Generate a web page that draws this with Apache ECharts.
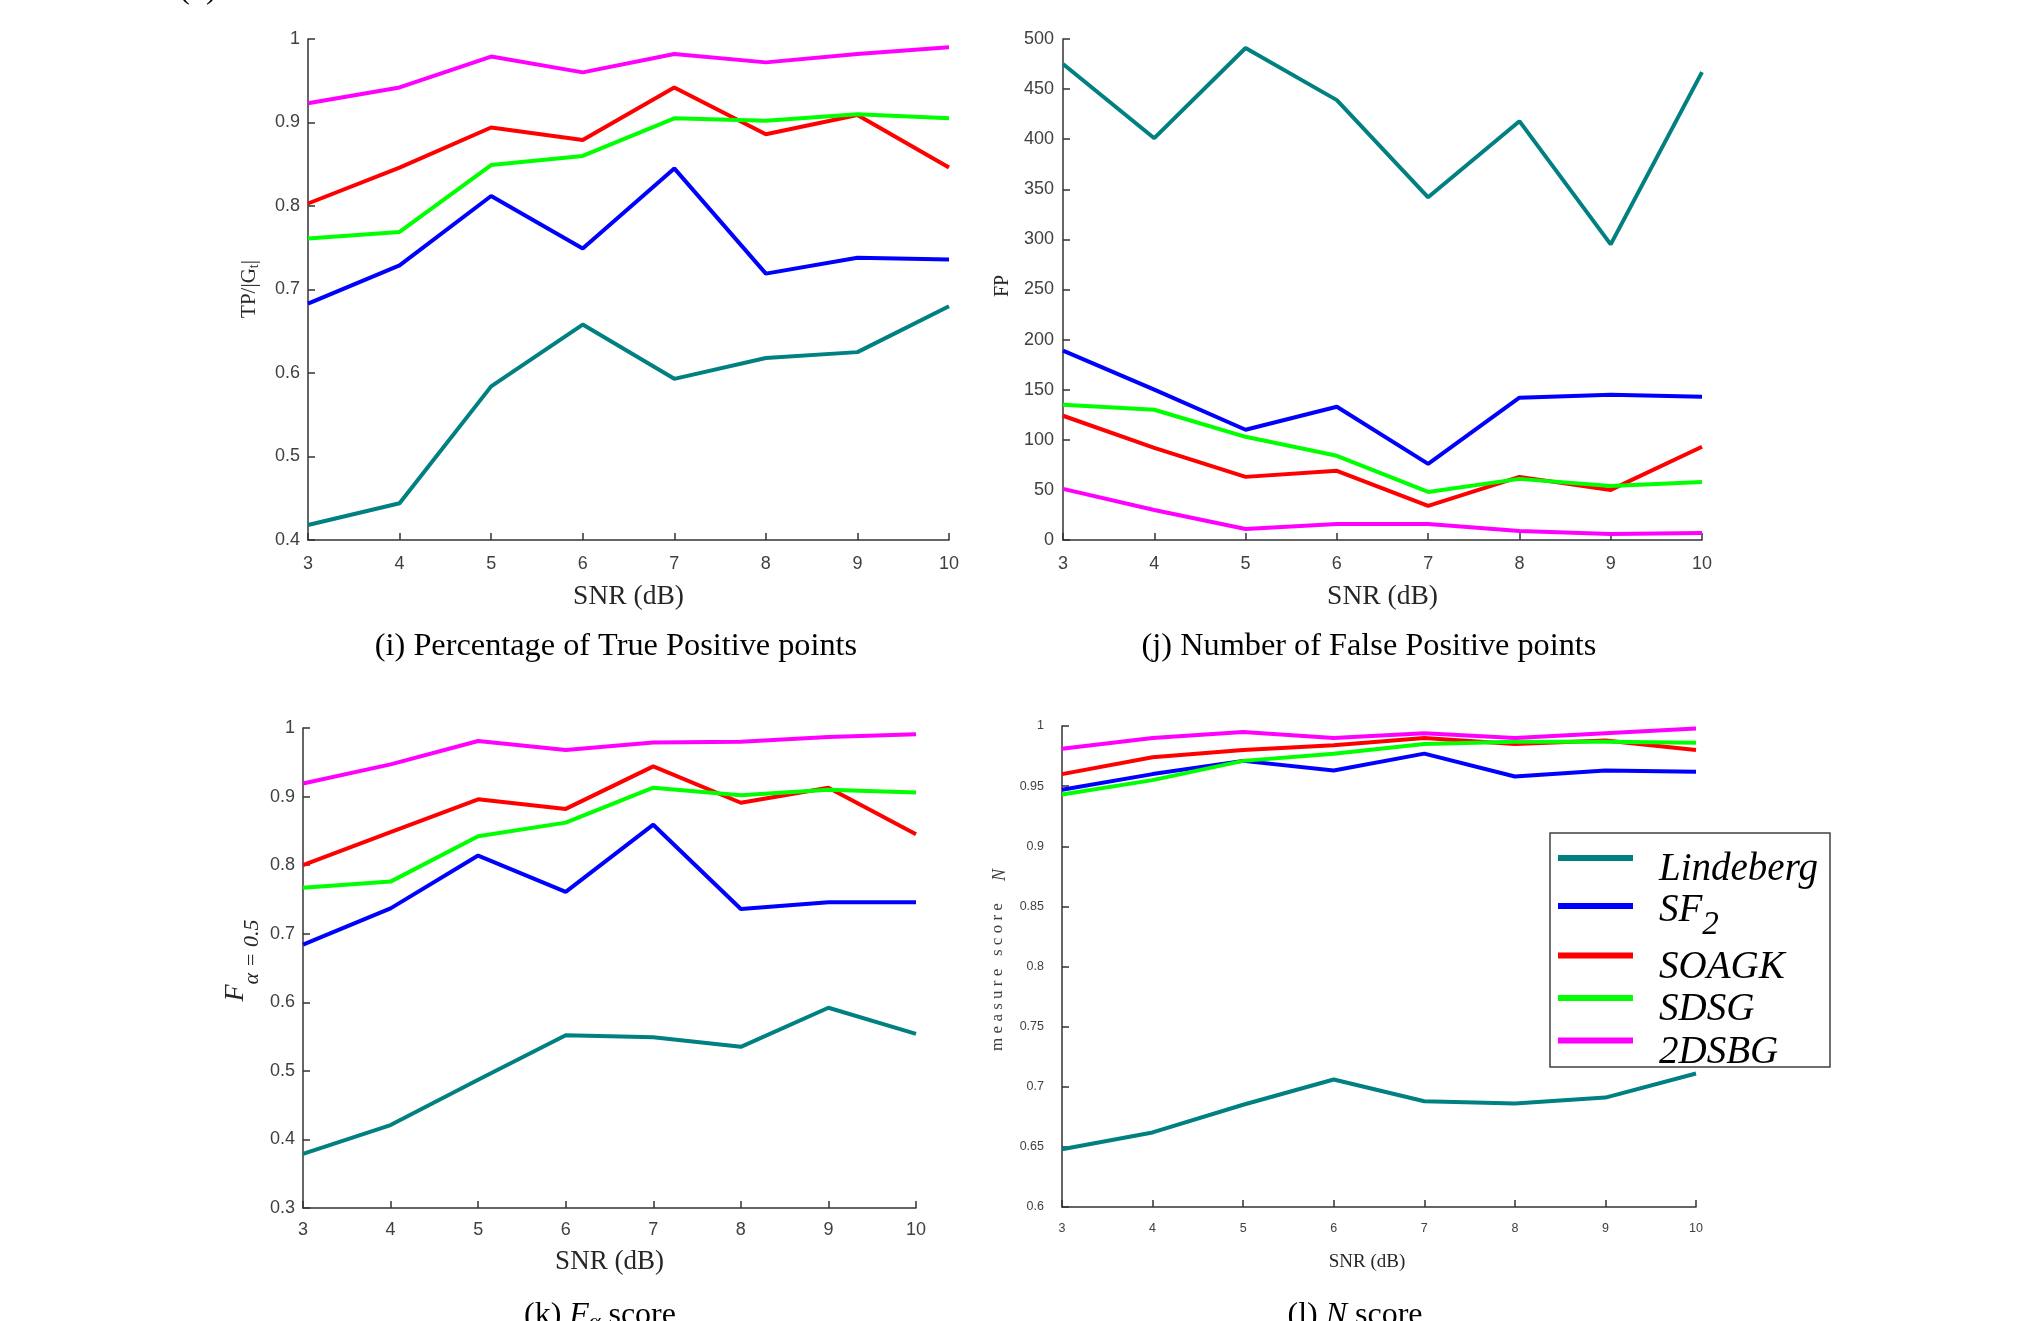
<!DOCTYPE html>
<html><head><meta charset="utf-8">
<script src="https://cdn.jsdelivr.net/npm/echarts@6/dist/echarts.min.js"></script>
<style>html,body{margin:0;padding:0;background:#fff}#c{width:2039px;height:1321px}</style>
</head><body><div id="c"></div>
<script>
// ---- data ----
const snr = [3, 4, 5, 6, 7, 8, 9, 10];
const methods = ['Lindeberg', 'SF2', 'SOAGK', 'SDSG', '2DSBG'];
const colors = ['#008080', '#0000ff', '#ff0000', '#00ff00', '#ff00ff'];

// (i) TP/|Gt|
const tpLindeberg = [0.418, 0.444, 0.584, 0.658, 0.593, 0.618, 0.625, 0.680];
const tpSF2       = [0.683, 0.729, 0.812, 0.749, 0.845, 0.719, 0.738, 0.736];
const tpSOAGK     = [0.803, 0.846, 0.894, 0.879, 0.942, 0.886, 0.909, 0.846];
const tpSDSG      = [0.761, 0.769, 0.849, 0.860, 0.905, 0.902, 0.910, 0.905];
const tp2DSBG     = [0.923, 0.942, 0.979, 0.960, 0.982, 0.972, 0.982, 0.990];
// (j) FP
const fpLindeberg = [475, 401, 491, 439, 342, 418, 295, 467];
const fpSF2       = [189, 150, 110, 133, 76, 142, 145, 143];
const fpSOAGK     = [124, 92, 63, 69, 34, 63, 50, 93];
const fpSDSG      = [135, 130, 103, 84, 48, 61, 54, 58];
const fp2DSBG     = [51, 30, 11, 16, 16, 9, 6, 7];
// (k) F alpha=0.5
const fLindeberg = [0.379, 0.421, 0.487, 0.552, 0.549, 0.535, 0.592, 0.554];
const fSF2       = [0.684, 0.737, 0.814, 0.761, 0.859, 0.736, 0.746, 0.746];
const fSOAGK     = [0.800, 0.848, 0.896, 0.882, 0.944, 0.891, 0.913, 0.845];
const fSDSG      = [0.767, 0.776, 0.842, 0.862, 0.913, 0.902, 0.910, 0.906];
const f2DSBG     = [0.919, 0.947, 0.981, 0.968, 0.979, 0.980, 0.987, 0.991];
// (l) N score
const nLindeberg = [0.648, 0.662, 0.685, 0.706, 0.688, 0.686, 0.691, 0.711];
const nSF2       = [0.947, 0.960, 0.971, 0.963, 0.977, 0.958, 0.963, 0.962];
const nSOAGK     = [0.960, 0.974, 0.980, 0.984, 0.990, 0.985, 0.988, 0.980];
const nSDSG      = [0.943, 0.955, 0.971, 0.977, 0.985, 0.987, 0.987, 0.986];
const n2DSBG     = [0.981, 0.990, 0.995, 0.990, 0.994, 0.990, 0.994, 0.998];

// axis ranges (tick labels)
const xTicks = {min: 3, max: 10, interval: 1};
const tpTicks = {min: 0.4, max: 1, interval: 0.1};
const fpTicks = {min: 0, max: 500, interval: 50};
const fTicks = {min: 0.3, max: 1, interval: 0.1};
const nTicks = {min: 0.6, max: 1, interval: 0.05};

const xTitle = 'SNR (dB)';
const captions = ['(i) Percentage of True Positive points', '(j) Number of False Positive points'];

// ---- layout ----
const panels = [
  {grid: {left: 308, top: 39, width: 641, height: 501}, y: tpTicks,
   data: [tpLindeberg, tpSF2, tpSOAGK, tpSDSG, tp2DSBG], fs: 18, xm: 15, ym: 8, nfs: 27.5, ng: 43, npad: [0, 0, 0, 0]},
  {grid: {left: 1063, top: 39, width: 639, height: 501}, y: fpTicks,
   data: [fpLindeberg, fpSF2, fpSOAGK, fpSDSG, fp2DSBG], fs: 18, xm: 15, ym: 9, nfs: 27.5, ng: 43, npad: [0, 0, 0, 0]},
  {grid: {left: 303, top: 728, width: 613, height: 480}, y: fTicks,
   data: [fLindeberg, fSF2, fSOAGK, fSDSG, f2DSBG], fs: 18, xm: 13, ym: 8, nfs: 27, ng: 40, npad: [0, 0, 0, 0]},
  {grid: {left: 1062, top: 726, width: 634, height: 481}, y: nTicks,
   data: [nLindeberg, nSF2, nSOAGK, nSDSG, n2DSBG], fs: 12.5, xm: 15, ym: 18, nfs: 19, ng: 46, npad: [0, 24, 0, 0]}
];

const axisColor = '#333333';
const labelColor = '#404040';
const serif = 'Liberation Serif';
const sans = 'Liberation Sans';

const grids = [], xAxes = [], yAxes = [], series = [];
panels.forEach((p, pi) => {
  grids.push(Object.assign({containLabel: false}, p.grid));
  xAxes.push({
    type: 'value', gridIndex: pi, min: xTicks.min, max: xTicks.max, interval: xTicks.interval,
    name: xTitle, nameLocation: 'middle', nameGap: p.ng,
    nameTextStyle: {fontFamily: serif, fontSize: p.nfs, color: '#262626', padding: p.npad},
    axisLine: {show: true, onZero: false, lineStyle: {color: axisColor, width: 1.5}},
    axisTick: {show: true, inside: true, length: 7, lineStyle: {color: axisColor, width: 1.5}},
    axisLabel: {fontFamily: sans, fontSize: p.fs, color: labelColor, margin: p.xm},
    splitLine: {show: false}
  });
  yAxes.push({
    type: 'value', gridIndex: pi, min: p.y.min, max: p.y.max, interval: p.y.interval,
    axisLine: {show: true, onZero: false, lineStyle: {color: axisColor, width: 1.5}},
    axisTick: {show: true, inside: true, length: 7, lineStyle: {color: axisColor, width: 1.5}},
    axisLabel: {fontFamily: sans, fontSize: p.fs, color: labelColor, margin: p.ym},
    splitLine: {show: false}
  });
  p.data.forEach((vals, k) => {
    series.push({
      type: 'line', name: methods[k], xAxisIndex: pi, yAxisIndex: pi,
      data: snr.map((x, i) => [x, vals[i]]),
      symbol: 'none', showSymbol: false,
      lineStyle: {width: 4, color: colors[k]},
      itemStyle: {color: colors[k]},
      z: 2
    });
  });
});

function txt(text, x, y, size, opts) {
  opts = opts || {};
  return {
    type: 'text', x: x, y: y, rotation: opts.rot || 0, z: 5,
    style: {
      text: text, fontFamily: serif, fontSize: size, fontStyle: opts.italic ? 'italic' : 'normal',
      fill: opts.color || '#000', align: 'center', verticalAlign: 'middle',
      textAlign: 'center', textVerticalAlign: 'middle', rich: opts.rich
    }
  };
}

const R = Math.PI / 2;
const graphics = [
  {type: 'rect', z: 3, shape: {x: 1550, y: 833, width: 280, height: 234},
   style: {fill: '#ffffff', stroke: '#404040', lineWidth: 1.5}},
  // captions
  txt('(h)', 198, -10, 32),
  txt(captions[0], 616, 647, 32.3),
  txt(captions[1], 1369, 647, 32.3),
  txt('(k) {i|F}{s|α} score', 600, 1316, 32, {rich: {
    i: {fontFamily: serif, fontStyle: 'italic', fontSize: 32},
    s: {fontFamily: serif, fontStyle: 'italic', fontSize: 22, padding: [12, 0, 0, 0]}}}),
  txt('(l) {i|N} score', 1355, 1316, 32, {rich: {
    i: {fontFamily: serif, fontStyle: 'italic', fontSize: 32}}}),
  // y-axis titles
  txt('TP/|G{s|t}|', 249, 289, 21, {rot: R, color: '#262626', rich: {
    s: {fontFamily: serif, fontSize: 14, padding: [10, 0, 0, 0]}}}),
  txt('FP', 1003, 286, 20, {rot: R, color: '#262626'}),
  txt('F', 236, 993, 28, {rot: R, italic: true, color: '#262626'}),
  txt('α = 0.5', 252, 952, 22, {rot: R, italic: true, color: '#262626'}),
  txt('m e a s u r e   s c o r e', 998, 977, 17, {rot: R, color: '#404040'}),
  txt('N', 1000, 875, 18, {rot: R, italic: true, color: '#404040'})
];

const legendText = {
  fontFamily: serif, fontStyle: 'italic', fontSize: 39, color: '#000', lineHeight: 40,
  padding: [24, 0, 0, 21],
  rich: {
    m: {fontFamily: serif, fontStyle: 'italic', fontSize: 39, color: '#000', lineHeight: 40, padding: [0, 0, 15, 0]},
    s: {fontFamily: serif, fontStyle: 'italic', fontSize: 33, color: '#000', lineHeight: 40, padding: [15, 0, 0, 0]}
  }
};
const legendBase = {
  orient: 'vertical', left: 1558, padding: 0, itemGap: -21.5, itemWidth: 75, itemHeight: 6,
  icon: 'rect', z: 6, formatter: n => n === 'SF2' ? '{m|SF}{s|2}' : n, textStyle: legendText
};

const chart = echarts.init(document.getElementById('c'), null, {renderer: 'canvas'});
chart.setOption({
  animation: false,
  backgroundColor: '#ffffff',
  grid: grids,
  xAxis: xAxes,
  yAxis: yAxes,
  series: series,
  legend: [
    Object.assign({}, legendBase, {data: methods.slice(0, 1), top: 826}),
    Object.assign({}, legendBase, {data: methods.slice(1), top: 874})
  ],
  graphic: graphics
});
</script>
</body></html>
